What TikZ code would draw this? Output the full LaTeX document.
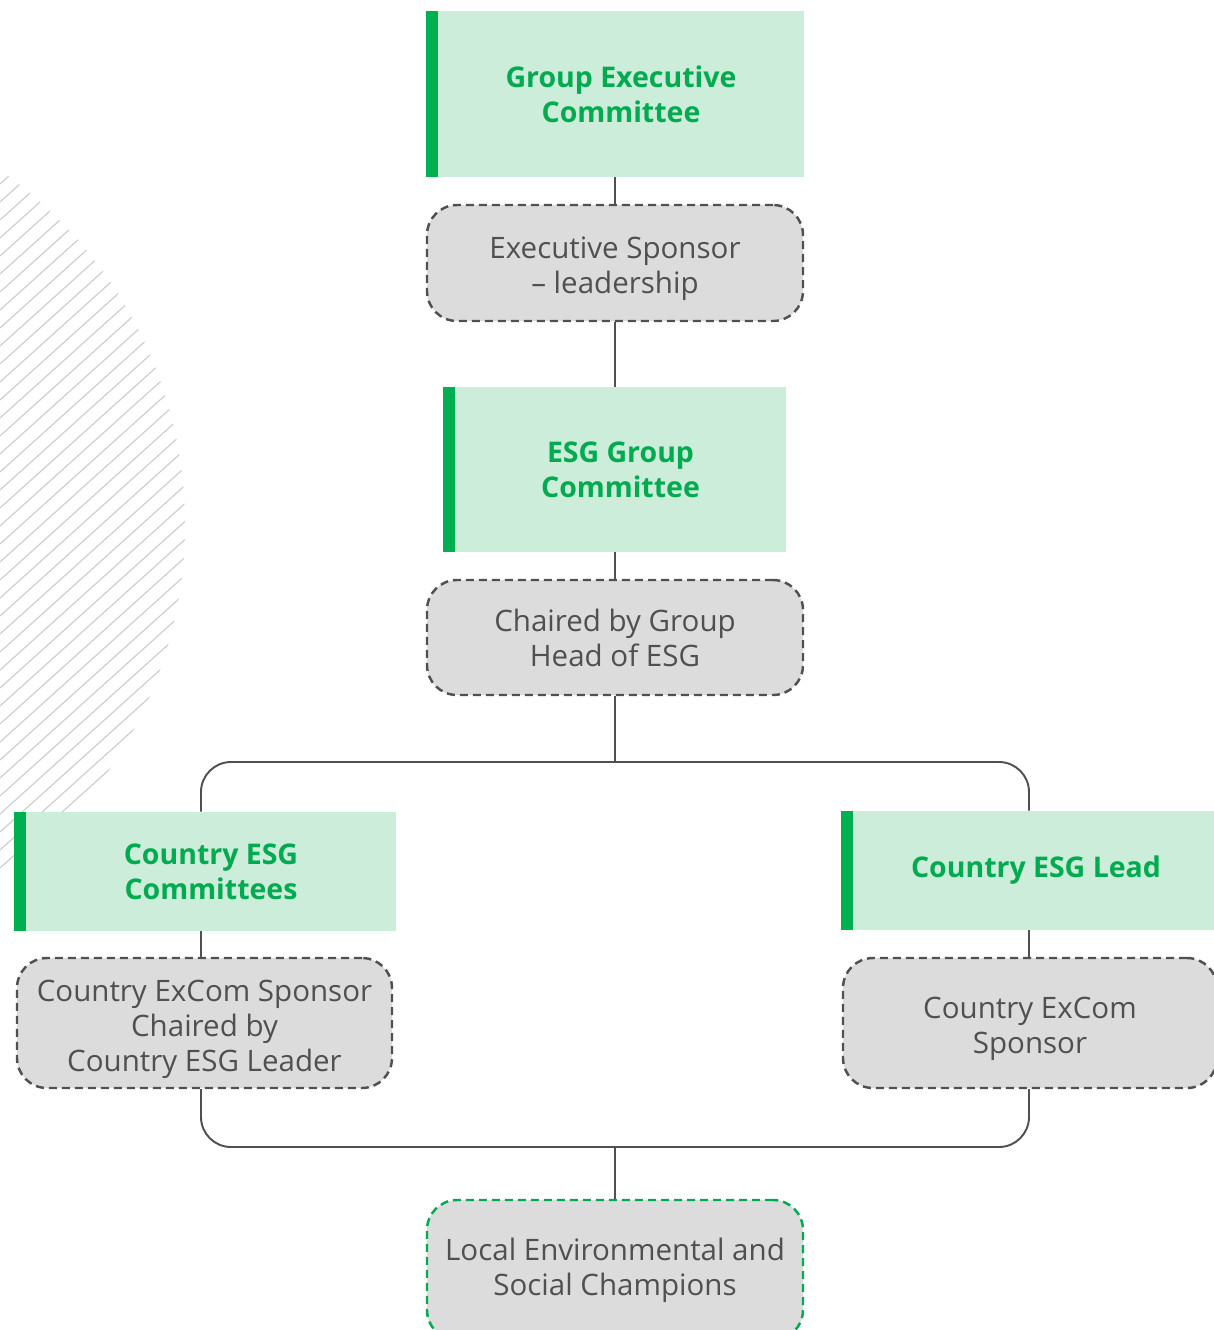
\documentclass[tikz,border=0pt]{standalone}
\usepackage{fontspec}
\setmainfont{Open Sans}
\usepackage{tikz}
\usetikzlibrary{calc}
\definecolor{esggreen}{RGB}{0,170,79}
\definecolor{barcol}{RGB}{0,175,80}
\definecolor{lightgreen}{RGB}{204,237,218}
\definecolor{boxgray}{RGB}{220,220,220}
\definecolor{linegray}{RGB}{80,80,80}
\definecolor{hatchgray}{RGB}{205,205,205}
\tikzstyle{committee} = [fill=lightgreen, text=esggreen, align=center,
	font=\fontsize{16.2}{19.9}\selectfont\bfseries,
	minimum height=2.38cm, inner sep=0pt]
\tikzstyle{role} = [draw=linegray, fill=boxgray, text=linegray,
	dash pattern=on 0.16cm off 0.1cm, line width=1.4pt,
	rounded corners=0.6cm, align=center,
	font=\fontsize{16.8}{19.9}\selectfont,
	minimum width=7.52cm, minimum height=2.32cm, inner sep=0pt]
\tikzstyle{link} = [draw=linegray, line width=1.1pt]
\tikzstyle{hatch} = [draw=hatchgray, line width=0.65pt]
\newcommand{\drawbar}[1]{\fill[barcol] (#1.north west) rectangle ($(#1.south west)+(-0.23,0)$)}
\newcommand{\lift}{\rule{0pt}{19pt}}

\begin{document}
\begin{tikzpicture}
	\useasboundingbox (0,0) rectangle (24.28,-26.6);
	\begin{scope}
		\clip (0,0) rectangle (24.28,-26.6);
		\clip (-4.96,-10.5) circle (8.66);
		\foreach \b in {-26,-25.64,...,0}
			\draw [hatch] (0,\b) -- ++(42:12);
	\end{scope}
	
	\node (gec) [committee, minimum width=7.32cm, minimum height=3.32cm] at (12.42,-1.88) {Group Executive\\Committee};
	\drawbar{gec};
	\node (sponsor) [role] at (12.30,-5.26) {\lift Executive Sponsor\\– leadership};
	
	\node (esg) [committee, minimum width=6.62cm, minimum height=3.30cm] at (12.41,-9.39) {ESG Group\\Committee};
	\drawbar{esg};
	\node (chair) [role, minimum height=2.30cm] at (12.30,-12.75) {Chaired by Group\\Head of ESG};
	
	\node (ccom) [committee, minimum width=7.40cm] at (4.22,-17.43) {Country ESG\\Committees};
	\drawbar{ccom};
	\node (cspon) [role, minimum width=7.50cm, minimum height=2.60cm] at (4.09,-20.46) {\lift Country ExCom Sponsor\\Chaired by\\Country ESG Leader};
	
	\node (lead) [committee, minimum width=7.32cm] at (20.72,-17.41) {Country ESG Lead};
	\drawbar{lead};
	\node (rspon) [role, minimum width=7.48cm, minimum height=2.60cm] at (20.60,-20.46) {\lift Country ExCom\\Sponsor};
	
	\node (champ) [role, draw=esggreen, minimum height=2.80cm] at (12.30,-25.40) {Local Environmental and\\Social Champions};
	
	\coordinate (jl) at (4.02,-15.24);
	\coordinate (jr) at (20.58,-15.24);
	\coordinate (bl) at (4.02,-22.94);
	\coordinate (br) at (20.58,-22.94);
	
	\draw [link] (sponsor.north) -- (sponsor.north |- gec.south);
	\draw [link] (sponsor.south) -- (sponsor.south |- esg.north);
	\draw [link] (chair.north) -- (chair.north |- esg.south);
	\draw [link] (chair.south) -- (chair.south |- jl);
	\draw [link, rounded corners=0.6cm] (ccom.north -| jl) -- (jl) -- (jr) -- (lead.north -| jr);
	\draw [link] (ccom.south -| jl) -- (cspon.north -| jl);
	\draw [link] (lead.south -| jr) -- (rspon.north -| jr);
	\draw [link, rounded corners=0.6cm] (cspon.south -| bl) -- (bl) -- (br) -- (rspon.south -| br);
	\draw [link] (champ.north) -- (champ.north |- bl);
\end{tikzpicture}
\end{document}
